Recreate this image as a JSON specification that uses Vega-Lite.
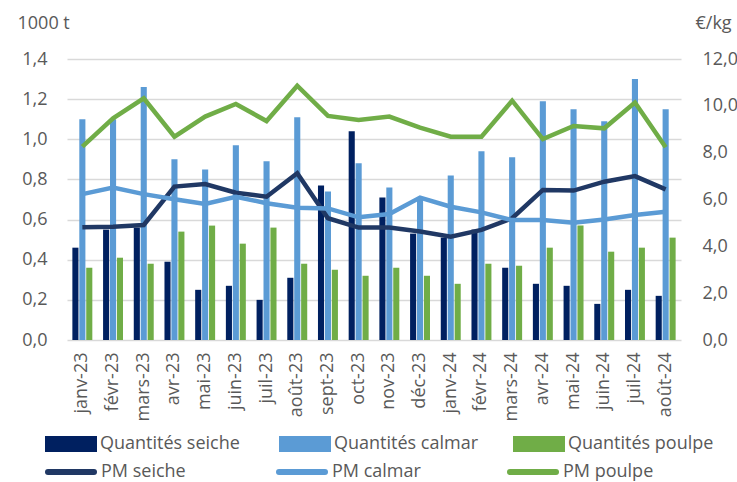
{
  "$schema": "https://vega.github.io/schema/vega-lite/v6.json",
  "width": 614,
  "height": 281,
  "autosize": {"type": "none"},
  "padding": {"left": 67, "top": 59, "right": 56, "bottom": 142},
  "background": "white",
  "config": {
    "view": {"stroke": null},
    "font": "Open Sans",
    "axis": {"labelFont": "Open Sans", "labelFontSize": 18, "labelColor": "#595959", "titleFont": "Open Sans", "titleFontSize": 18, "titleColor": "#595959", "titleFontWeight": "normal", "domain": false, "ticks": false},
    "legend": {"labelFont": "Open Sans", "labelFontSize": 18, "labelColor": "#595959"}
  },
  "datasets": {
    "quantites": [
      {"mois": "janv-23", "serie": "Quantités seiche", "valeur": 0.46},
      {"mois": "févr-23", "serie": "Quantités seiche", "valeur": 0.55},
      {"mois": "mars-23", "serie": "Quantités seiche", "valeur": 0.56},
      {"mois": "avr-23", "serie": "Quantités seiche", "valeur": 0.39},
      {"mois": "mai-23", "serie": "Quantités seiche", "valeur": 0.25},
      {"mois": "juin-23", "serie": "Quantités seiche", "valeur": 0.27},
      {"mois": "juil-23", "serie": "Quantités seiche", "valeur": 0.20},
      {"mois": "août-23", "serie": "Quantités seiche", "valeur": 0.31},
      {"mois": "sept-23", "serie": "Quantités seiche", "valeur": 0.77},
      {"mois": "oct-23", "serie": "Quantités seiche", "valeur": 1.04},
      {"mois": "nov-23", "serie": "Quantités seiche", "valeur": 0.71},
      {"mois": "déc-23", "serie": "Quantités seiche", "valeur": 0.53},
      {"mois": "janv-24", "serie": "Quantités seiche", "valeur": 0.51},
      {"mois": "févr-24", "serie": "Quantités seiche", "valeur": 0.55},
      {"mois": "mars-24", "serie": "Quantités seiche", "valeur": 0.36},
      {"mois": "avr-24", "serie": "Quantités seiche", "valeur": 0.28},
      {"mois": "mai-24", "serie": "Quantités seiche", "valeur": 0.27},
      {"mois": "juin-24", "serie": "Quantités seiche", "valeur": 0.18},
      {"mois": "juil-24", "serie": "Quantités seiche", "valeur": 0.25},
      {"mois": "août-24", "serie": "Quantités seiche", "valeur": 0.22},
      {"mois": "janv-23", "serie": "Quantités calmar", "valeur": 1.10},
      {"mois": "févr-23", "serie": "Quantités calmar", "valeur": 1.10},
      {"mois": "mars-23", "serie": "Quantités calmar", "valeur": 1.26},
      {"mois": "avr-23", "serie": "Quantités calmar", "valeur": 0.90},
      {"mois": "mai-23", "serie": "Quantités calmar", "valeur": 0.85},
      {"mois": "juin-23", "serie": "Quantités calmar", "valeur": 0.97},
      {"mois": "juil-23", "serie": "Quantités calmar", "valeur": 0.89},
      {"mois": "août-23", "serie": "Quantités calmar", "valeur": 1.11},
      {"mois": "sept-23", "serie": "Quantités calmar", "valeur": 0.74},
      {"mois": "oct-23", "serie": "Quantités calmar", "valeur": 0.88},
      {"mois": "nov-23", "serie": "Quantités calmar", "valeur": 0.76},
      {"mois": "déc-23", "serie": "Quantités calmar", "valeur": 0.70},
      {"mois": "janv-24", "serie": "Quantités calmar", "valeur": 0.82},
      {"mois": "févr-24", "serie": "Quantités calmar", "valeur": 0.94},
      {"mois": "mars-24", "serie": "Quantités calmar", "valeur": 0.91},
      {"mois": "avr-24", "serie": "Quantités calmar", "valeur": 1.19},
      {"mois": "mai-24", "serie": "Quantités calmar", "valeur": 1.15},
      {"mois": "juin-24", "serie": "Quantités calmar", "valeur": 1.09},
      {"mois": "juil-24", "serie": "Quantités calmar", "valeur": 1.30},
      {"mois": "août-24", "serie": "Quantités calmar", "valeur": 1.15},
      {"mois": "janv-23", "serie": "Quantités poulpe", "valeur": 0.36},
      {"mois": "févr-23", "serie": "Quantités poulpe", "valeur": 0.41},
      {"mois": "mars-23", "serie": "Quantités poulpe", "valeur": 0.38},
      {"mois": "avr-23", "serie": "Quantités poulpe", "valeur": 0.54},
      {"mois": "mai-23", "serie": "Quantités poulpe", "valeur": 0.57},
      {"mois": "juin-23", "serie": "Quantités poulpe", "valeur": 0.48},
      {"mois": "juil-23", "serie": "Quantités poulpe", "valeur": 0.56},
      {"mois": "août-23", "serie": "Quantités poulpe", "valeur": 0.38},
      {"mois": "sept-23", "serie": "Quantités poulpe", "valeur": 0.35},
      {"mois": "oct-23", "serie": "Quantités poulpe", "valeur": 0.32},
      {"mois": "nov-23", "serie": "Quantités poulpe", "valeur": 0.36},
      {"mois": "déc-23", "serie": "Quantités poulpe", "valeur": 0.32},
      {"mois": "janv-24", "serie": "Quantités poulpe", "valeur": 0.28},
      {"mois": "févr-24", "serie": "Quantités poulpe", "valeur": 0.38},
      {"mois": "mars-24", "serie": "Quantités poulpe", "valeur": 0.37},
      {"mois": "avr-24", "serie": "Quantités poulpe", "valeur": 0.46},
      {"mois": "mai-24", "serie": "Quantités poulpe", "valeur": 0.57},
      {"mois": "juin-24", "serie": "Quantités poulpe", "valeur": 0.44},
      {"mois": "juil-24", "serie": "Quantités poulpe", "valeur": 0.46},
      {"mois": "août-24", "serie": "Quantités poulpe", "valeur": 0.51}
    ],
    "prix": [
      {"mois": "janv-23", "serie": "PM seiche", "prix": 4.81},
      {"mois": "févr-23", "serie": "PM seiche", "prix": 4.84},
      {"mois": "mars-23", "serie": "PM seiche", "prix": 4.91},
      {"mois": "avr-23", "serie": "PM seiche", "prix": 6.55},
      {"mois": "mai-23", "serie": "PM seiche", "prix": 6.66},
      {"mois": "juin-23", "serie": "PM seiche", "prix": 6.29},
      {"mois": "juil-23", "serie": "PM seiche", "prix": 6.12},
      {"mois": "août-23", "serie": "PM seiche", "prix": 7.12},
      {"mois": "sept-23", "serie": "PM seiche", "prix": 5.2},
      {"mois": "oct-23", "serie": "PM seiche", "prix": 4.80},
      {"mois": "nov-23", "serie": "PM seiche", "prix": 4.80},
      {"mois": "déc-23", "serie": "PM seiche", "prix": 4.63},
      {"mois": "janv-24", "serie": "PM seiche", "prix": 4.41},
      {"mois": "févr-24", "serie": "PM seiche", "prix": 4.70},
      {"mois": "mars-24", "serie": "PM seiche", "prix": 5.20},
      {"mois": "avr-24", "serie": "PM seiche", "prix": 6.41},
      {"mois": "mai-24", "serie": "PM seiche", "prix": 6.38},
      {"mois": "juin-24", "serie": "PM seiche", "prix": 6.76},
      {"mois": "juil-24", "serie": "PM seiche", "prix": 7.00},
      {"mois": "août-24", "serie": "PM seiche", "prix": 6.43},
      {"mois": "janv-23", "serie": "PM calmar", "prix": 6.23},
      {"mois": "févr-23", "serie": "PM calmar", "prix": 6.51},
      {"mois": "mars-23", "serie": "PM calmar", "prix": 6.23},
      {"mois": "avr-23", "serie": "PM calmar", "prix": 6.01},
      {"mois": "mai-23", "serie": "PM calmar", "prix": 5.81},
      {"mois": "juin-23", "serie": "PM calmar", "prix": 6.12},
      {"mois": "juil-23", "serie": "PM calmar", "prix": 5.84},
      {"mois": "août-23", "serie": "PM calmar", "prix": 5.65},
      {"mois": "sept-23", "serie": "PM calmar", "prix": 5.62},
      {"mois": "oct-23", "serie": "PM calmar", "prix": 5.24},
      {"mois": "nov-23", "serie": "PM calmar", "prix": 5.38},
      {"mois": "déc-23", "serie": "PM calmar", "prix": 6.08},
      {"mois": "janv-24", "serie": "PM calmar", "prix": 5.69},
      {"mois": "févr-24", "serie": "PM calmar", "prix": 5.45},
      {"mois": "mars-24", "serie": "PM calmar", "prix": 5.12},
      {"mois": "avr-24", "serie": "PM calmar", "prix": 5.12},
      {"mois": "mai-24", "serie": "PM calmar", "prix": 5.01},
      {"mois": "juin-24", "serie": "PM calmar", "prix": 5.15},
      {"mois": "juil-24", "serie": "PM calmar", "prix": 5.34},
      {"mois": "août-24", "serie": "PM calmar", "prix": 5.48},
      {"mois": "janv-23", "serie": "PM poulpe", "prix": 8.26},
      {"mois": "févr-23", "serie": "PM poulpe", "prix": 9.47},
      {"mois": "mars-23", "serie": "PM poulpe", "prix": 10.32},
      {"mois": "avr-23", "serie": "PM poulpe", "prix": 8.68},
      {"mois": "mai-23", "serie": "PM poulpe", "prix": 9.54},
      {"mois": "juin-23", "serie": "PM poulpe", "prix": 10.08},
      {"mois": "juil-23", "serie": "PM poulpe", "prix": 9.35},
      {"mois": "août-23", "serie": "PM poulpe", "prix": 10.86},
      {"mois": "sept-23", "serie": "PM poulpe", "prix": 9.57},
      {"mois": "oct-23", "serie": "PM poulpe", "prix": 9.40},
      {"mois": "nov-23", "serie": "PM poulpe", "prix": 9.54},
      {"mois": "déc-23", "serie": "PM poulpe", "prix": 9.07},
      {"mois": "janv-24", "serie": "PM poulpe", "prix": 8.68},
      {"mois": "févr-24", "serie": "PM poulpe", "prix": 8.68},
      {"mois": "mars-24", "serie": "PM poulpe", "prix": 10.22},
      {"mois": "avr-24", "serie": "PM poulpe", "prix": 8.58},
      {"mois": "mai-24", "serie": "PM poulpe", "prix": 9.14},
      {"mois": "juin-24", "serie": "PM poulpe", "prix": 9.04},
      {"mois": "juil-24", "serie": "PM poulpe", "prix": 10.14},
      {"mois": "août-24", "serie": "PM poulpe", "prix": 8.23}
    ]
  },
  "encoding": {
    "x": {
      "field": "mois",
      "type": "nominal",
      "scale": {
        "type": "band",
        "domain": ["janv-23", "févr-23", "mars-23", "avr-23", "mai-23", "juin-23", "juil-23", "août-23", "sept-23", "oct-23", "nov-23", "déc-23", "janv-24", "févr-24", "mars-24", "avr-24", "mai-24", "juin-24", "juil-24", "août-24"],
        "paddingInner": 0.35,
        "paddingOuter": 0.175
      },
      "axis": {"title": null, "labelAngle": -90, "labelPadding": 12, "grid": false, "labelFontSize": 18}
    }
  },
  "layer": [
    {
      "data": {"name": "quantites"},
      "mark": {"type": "bar"},
      "encoding": {
        "xOffset": {
          "field": "serie",
          "type": "nominal",
          "scale": {"domain": ["Quantités seiche", "Quantités calmar", "Quantités poulpe"], "paddingInner": 0.12, "paddingOuter": 0}
        },
        "y": {
          "field": "valeur",
          "type": "quantitative",
          "scale": {"domain": [0, 1.4], "nice": false},
          "axis": {
            "values": [0, 0.2, 0.4, 0.6, 0.8, 1.0, 1.2, 1.4],
            "labelExpr": "replace(format(datum.value, '.1f'), '.', ',')",
            "labelPadding": 20,
            "grid": true,
            "gridColor": "#D9D9D9",
            "gridWidth": 1.5,
            "title": "1000 t",
            "titleAngle": 0,
            "titleX": -50,
            "titleY": -36,
            "titleAlign": "left",
            "titleBaseline": "middle"
          }
        },
        "color": {
          "field": "serie",
          "type": "nominal",
          "scale": {"domain": ["Quantités seiche", "Quantités calmar", "Quantités poulpe"], "range": ["#002060", "#5B9BD5", "#70AD47"]},
          "legend": {
            "orient": "none",
            "legendX": -22,
            "legendY": 359,
            "columns": 3,
            "title": null,
            "symbolType": "M-1,-0.31H1V0.31H-1Z",
            "symbolSize": 2704,
            "symbolStrokeWidth": 0,
            "labelOffset": 3,
            "columnPadding": 33,
            "gridAlign": "all",
            "labelLimit": 300
          }
        }
      }
    },
    {
      "data": {"name": "prix"},
      "mark": {"type": "line", "strokeWidth": 4.5},
      "encoding": {
        "y": {
          "field": "prix",
          "type": "quantitative",
          "scale": {"domain": [0, 12], "nice": false},
          "axis": {
            "orient": "right",
            "values": [0, 2, 4, 6, 8, 10, 12],
            "labelExpr": "replace(format(datum.value, '.1f'), '.', ',')",
            "labelPadding": 21,
            "grid": false,
            "title": "€/kg",
            "titleAngle": 0,
            "titleX": 14,
            "titleY": -36,
            "titleAlign": "left",
            "titleBaseline": "middle"
          }
        },
        "color": {
          "field": "serie",
          "type": "nominal",
          "scale": {"domain": ["PM seiche", "PM calmar", "PM poulpe"], "range": ["#203864", "#5B9BD5", "#70AD47"]},
          "legend": {
            "orient": "none",
            "legendX": -22,
            "legendY": 387,
            "columns": 3,
            "title": null,
            "symbolType": "stroke",
            "symbolSize": 2116,
            "symbolStrokeWidth": 6,
            "labelOffset": 4,
            "columnPadding": 75,
            "gridAlign": "all",
            "labelLimit": 300,
            "encode": {"symbols": {"update": {"strokeCap": {"value": "round"}}}}
          }
        }
      }
    }
  ],
  "resolve": {"scale": {"y": "independent", "color": "independent"}}
}
